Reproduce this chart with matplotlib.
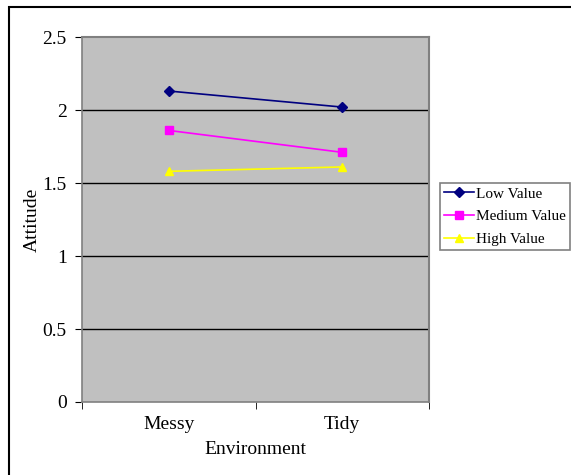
import matplotlib
matplotlib.use('Agg')
import matplotlib.pyplot as plt
from matplotlib.patches import Rectangle
from matplotlib.ticker import FixedLocator, FuncFormatter

plt.rcParams['font.family'] = ['Liberation Serif', 'DejaVu Serif']

# data
environments = ['Messy', 'Tidy']
low_value = [2.13, 2.02]
medium_value = [1.86, 1.71]
high_value = [1.58, 1.61]
y_ticks = [0, 0.5, 1, 1.5, 2, 2.5]

W, H = 571, 475
fig = plt.figure(figsize=(W / 100, H / 100), dpi=100)

# outer chart border (runs off the right and bottom of the picture)
fig.patches.append(Rectangle((9 / W, -0.1), 1.0, 1 - 7 / H + 0.1, transform=fig.transFigure,
                             fill=False, edgecolor='black', linewidth=1.5, zorder=0))

ax = fig.add_axes([82 / W, 1 - 402 / H, 347 / W, 365 / H])
ax.set_facecolor('#c0c0c0')

x = list(range(len(environments)))
ax.plot(x, low_value, color='#000080', marker='D', markersize=5, linewidth=1.2, label='Low Value')
ax.plot(x, medium_value, color='#ff00ff', marker='s', markersize=6, linewidth=1.2, label='Medium Value')
ax.plot(x, high_value, color='#ffff00', marker='^', markersize=6, linewidth=1.2, label='High Value')

ax.set_xlim(-0.5, len(environments) - 0.5)
ax.set_ylim(0, 2.5)
ax.set_yticks(y_ticks)
ax.yaxis.set_major_formatter(FuncFormatter(lambda v, p: '%g' % v))
for yv in y_ticks[1:-1]:
    ax.axhline(yv, color='black', linewidth=1, zorder=1)

ax.set_xticks(x)
ax.set_xticklabels(environments)
ax.xaxis.set_minor_locator(FixedLocator([i - 0.5 for i in range(len(environments) + 1)]))
ax.tick_params(axis='x', which='major', length=0, pad=10, labelsize=14)
ax.tick_params(axis='x', which='minor', length=5, direction='out', color='black')
ax.tick_params(axis='y', length=5, direction='out', color='black', labelsize=14, pad=6)

for s in ['top', 'right']:
    ax.spines[s].set_color('#808080')
    ax.spines[s].set_linewidth(1.5)
for s in ['left', 'bottom']:
    ax.spines[s].set_color('#808080')
    ax.spines[s].set_linewidth(1.2)

ax.set_xlabel('Environment', fontsize=14, labelpad=6)
ax.set_ylabel('Attitude', fontsize=14)
ax.yaxis.set_label_coords(-0.118, 0.5)

leg = ax.legend(loc='upper left', bbox_to_anchor=(440 / W, 1 - 183 / H), bbox_transform=fig.transFigure,
                fancybox=False, framealpha=1, edgecolor='#808080', fontsize=11,
                borderpad=0.25, handlelength=2.0, handletextpad=0.1, labelspacing=0.6,
                borderaxespad=0)
leg.get_frame().set_linewidth(1.2)

fig.savefig('out.png', dpi=100)
